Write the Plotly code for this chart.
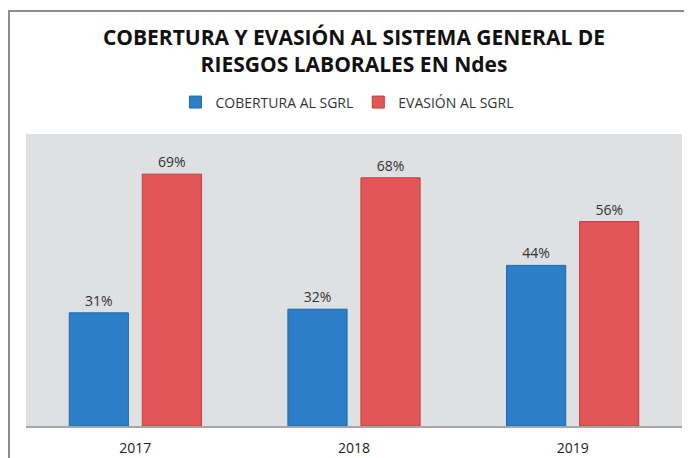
import plotly.graph_objects as go

years = ["2017", "2018", "2019"]
cobertura = [0.31, 0.32, 0.44]
evasion = [0.69, 0.68, 0.56]
series_names = ["COBERTURA AL SGRL", "EVASIÓN AL SGRL"]
title_text = "COBERTURA Y EVASIÓN AL SISTEMA GENERAL DE<br>RIESGOS LABORALES EN Ndes"

font_family = "Open Sans, Noto Sans, sans-serif"

fig = go.Figure()
fig.add_trace(go.Bar(
    x=years, y=cobertura, name=series_names[0],
    marker=dict(color="#2a7fc7", line=dict(color="#2268a8", width=1)),
    texttemplate="%{y:.0%}", textposition="outside",
    textfont=dict(size=14, color="#333333", family=font_family),
    cliponaxis=False,
))
fig.add_trace(go.Bar(
    x=years, y=evasion, name=series_names[1],
    marker=dict(color="#e35657", line=dict(color="#c23d3f", width=1)),
    texttemplate="%{y:.0%}", textposition="outside",
    textfont=dict(size=14, color="#333333", family=font_family),
    cliponaxis=False,
))

fig.update_layout(
    width=692, height=458,
    autosize=False,
    margin=dict(l=18, r=18, t=126, b=40, autoexpand=False),
    paper_bgcolor="white",
    plot_bgcolor="#dfe0e2",
    barmode="group",
    bargap=0.332,
    bargroupgap=0.19,
    title=dict(
        text="<b>" + title_text + "</b>",
        x=0.5, xanchor="center",
        y=0.92, yanchor="top", yref="container",
        font=dict(size=21, color="#111111", family=font_family),
    ),
    legend=dict(
        orientation="h", x=0.49, xanchor="center", y=1.108, yanchor="middle",
        font=dict(size=14, color="#333333", family=font_family),
        itemwidth=30, traceorder="normal",
        bgcolor="rgba(0,0,0,0)",
    ),
    xaxis=dict(
        showline=True, linecolor="#a6a6a6", linewidth=1.5,
        ticks="outside", ticklen=8, tickcolor="rgba(0,0,0,0)",
        tickfont=dict(size=14, color="#222222", family=font_family),
        showgrid=False, automargin=False,
    ),
    yaxis=dict(
        range=[0, 0.8], visible=False, showgrid=False, automargin=False,
    ),
    shapes=[dict(
        type="rect", xref="paper", yref="paper",
        x0=-0.0259, x1=1.1, y0=-0.3, y1=1.421,
        line=dict(color="#8c8c8c", width=2), fillcolor="rgba(0,0,0,0)",
        layer="below",
    )],
    showlegend=True,
)

fig.write_html("out.html")
